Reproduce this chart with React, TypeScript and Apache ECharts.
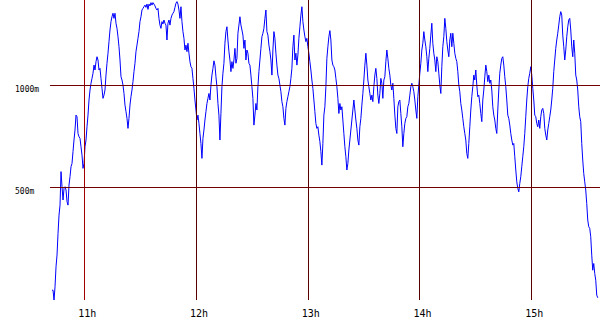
import React, { useEffect, useRef } from "react";
import * as echarts from "echarts";

// Logged altitude trace (metres), one sample every `sampleSeconds` starting at `startTime`
const startTime = "10:42:40";
const sampleSeconds = 32.2;
const altitudes = [
  -4, -4, -52, 13, 111, 168, 274, 364, 413, 577,
  503, 438, 495, 503, 487, 430, 413, 511, 552, 601,
  617, 675, 732, 781, 854, 846, 764, 748, 740, 699,
  658, 593, 617, 699, 732, 797, 854, 928, 977, 1010,
  1034, 1059, 1099, 1075, 1116, 1140, 1124, 1075, 1083, 1034,
  985, 936, 952, 977, 1050, 1108, 1157, 1214, 1271, 1312,
  1336, 1353, 1328, 1353, 1304, 1279, 1238, 1189, 1124, 1042,
  1026, 1001, 960, 903, 871, 838, 789, 838, 903, 944,
  977, 1018, 1067, 1108, 1165, 1197, 1230, 1263, 1312, 1336,
  1369, 1377, 1385, 1393, 1382, 1398, 1372, 1398, 1389, 1405,
  1393, 1405, 1398, 1389, 1377, 1369, 1377, 1328, 1295, 1279,
  1312, 1300, 1320, 1304, 1295, 1222, 1304, 1320, 1295, 1328,
  1344, 1353, 1361, 1382, 1402, 1410, 1398, 1369, 1328, 1385,
  1312, 1263, 1230, 1173, 1197, 1165, 1206, 1157, 1116, 1091,
  1083, 1034, 985, 928, 879, 830, 854, 813, 764, 715,
  642, 740, 781, 830, 871, 911, 936, 960, 928, 1001,
  1050, 1083, 1120, 1099, 1042, 993, 911, 854, 732, 862,
  993, 1059, 1108, 1206, 1263, 1287, 1222, 1165, 1124, 1067,
  1116, 1083, 1124, 1181, 1108, 1132, 1255, 1295, 1336, 1295,
  1271, 1246, 1181, 1222, 1124, 1173, 1157, 1108, 1099, 1050,
  993, 936, 805, 854, 911, 879, 993, 1067, 1124, 1181,
  1238, 1255, 1279, 1328, 1369, 1263, 1246, 1197, 1165, 1124,
  1050, 1173, 1263, 1230, 1157, 1099, 1050, 1034, 1001, 969,
  920, 895, 838, 805, 887, 920, 944, 969, 993, 1034,
  1083, 1189, 1246, 1124, 1157, 1099, 1148, 1230, 1287, 1344,
  1385, 1312, 1271, 1238, 1214, 1230, 1189, 1157, 1116, 1075,
  1026, 985, 928, 871, 813, 789, 797, 756, 724, 675,
  609, 715, 854, 895, 993, 1132, 1189, 1238, 1268, 1222,
  1124, 1099, 1091, 1075, 1034, 993, 936, 862, 911, 879,
  895, 830, 764, 699, 650, 585, 617, 683, 732, 781,
  830, 879, 928, 879, 830, 789, 732, 707, 797, 838,
  903, 960, 1026, 1099, 1157, 1099, 1026, 993, 960, 928,
  952, 920, 993, 1050, 1083, 1034, 952, 911, 960, 1034,
  1010, 936, 1026, 1042, 1116, 1173, 1132, 1083, 1050, 1001,
  977, 1010, 936, 854, 789, 764, 895, 920, 928, 862,
  797, 699, 764, 813, 838, 846, 895, 911, 952, 993,
  1010, 993, 969, 928, 879, 838, 944, 1001, 1059, 1108,
  1173, 1206, 1263, 1222, 1189, 1140, 1067, 1132, 1181, 1246,
  1304, 1206, 1157, 1124, 1067, 1140, 1116, 1059, 1001, 960,
  1091, 1189, 1238, 1328, 1279, 1214, 1173, 1140, 1222, 1255,
  1189, 1255, 1206, 1157, 1132, 1116, 1067, 1001, 969, 911,
  879, 838, 797, 764, 732, 666, 642, 715, 797, 879,
  944, 993, 1050, 1026, 1075, 1001, 944, 952, 911, 862,
  822, 928, 977, 1042, 1099, 1067, 1018, 1050, 1010, 1026,
  977, 895, 854, 830, 789, 764, 879, 977, 1059, 1099,
  1132, 1140, 1099, 1042, 993, 928, 854, 838, 805, 764,
  732, 707, 715, 650, 585, 527, 495, 478, 519, 552,
  601, 650, 699, 764, 846, 928, 993, 1034, 1059, 1091,
  1050, 985, 928, 854, 846, 813, 797, 830, 789, 846,
  879, 887, 862, 789, 756, 732, 781, 813, 846, 879,
  928, 985, 1067, 1124, 1181, 1222, 1255, 1295, 1336, 1361,
  1344, 1246, 1189, 1124, 1173, 1238, 1287, 1320, 1328, 1271,
  1189, 1140, 1222, 1157, 1050, 1026, 977, 895, 846, 822,
  715, 634, 568, 527, 487, 421, 340, 307, 299, 258,
  168, 94, 127, 78, 45, -28, -41,
];

const xTickHours = [11, 12, 13, 14, 15];
const yTickMeters = [500, 1000];
const highlightHour = 11;
const xRangeHours = [10.693, 15.615];
const yRangeMeters = [-52, 1418];

export default function App() {
  const ref = useRef<HTMLDivElement>(null);

  useEffect(() => {
    if (!ref.current) return;
    const chart = echarts.init(ref.current, null, { renderer: "svg" });
    const [h, m, s] = startTime.split(":").map(Number);
    const t0 = h + m / 60 + s / 3600;
    const data = altitudes.map((a, i) => [t0 + (i * sampleSeconds) / 3600, a]);

    const gridLines: any[] = [
      ...xTickHours.map((v) => ({
        xAxis: v,
        lineStyle: { color: v === highlightHour ? "#a00000" : "#5a0000" },
      })),
      ...yTickMeters.map((v) => ({ yAxis: v, lineStyle: { color: "#700000" } })),
    ];

    chart.setOption({
      animation: false,
      grid: { left: 50, right: 0, top: 0, bottom: 30, containLabel: false },
      xAxis: {
        type: "value",
        min: xRangeHours[0],
        max: xRangeHours[1],
        axisLine: { show: false },
        axisTick: { show: false },
        splitLine: { show: false },
        axisLabel: {
          customValues: xTickHours,
          formatter: (v: number) => `${v}h`,
          fontFamily: "DejaVu Sans Mono",
          fontSize: 10,
          color: "#000",
          margin: 8,
          padding: [0, 0, 0, 6],
        },
      },
      yAxis: {
        type: "value",
        min: yRangeMeters[0],
        max: yRangeMeters[1],
        axisLine: { show: false },
        axisTick: { show: false },
        splitLine: { show: false },
        axisLabel: {
          customValues: yTickMeters,
          formatter: (v: number) => `${v}m`,
          fontFamily: "DejaVu Sans Mono",
          fontSize: 8,
          color: "#000",
          align: "left",
          verticalAlign: "top",
          margin: 35,
        },
      },
      series: [
        {
          type: "line",
          data: [],
          z: 1,
          silent: true,
          markLine: {
            silent: true,
            symbol: ["none", "none"],
            label: { show: false },
            lineStyle: { type: "solid", width: 1 },
            emphasis: { disabled: true },
            data: gridLines,
          },
        },
        {
          type: "line",
          data,
          z: 2,
          showSymbol: false,
          symbol: "none",
          silent: true,
          lineStyle: { color: "#0000ff", width: 1 },
        },
      ],
    });

    return () => chart.dispose();
  }, []);

  return (
    <div
      ref={ref}
      style={{ position: "absolute", left: 0, top: 0, width: 600, height: 330 }}
    />
  );
}
